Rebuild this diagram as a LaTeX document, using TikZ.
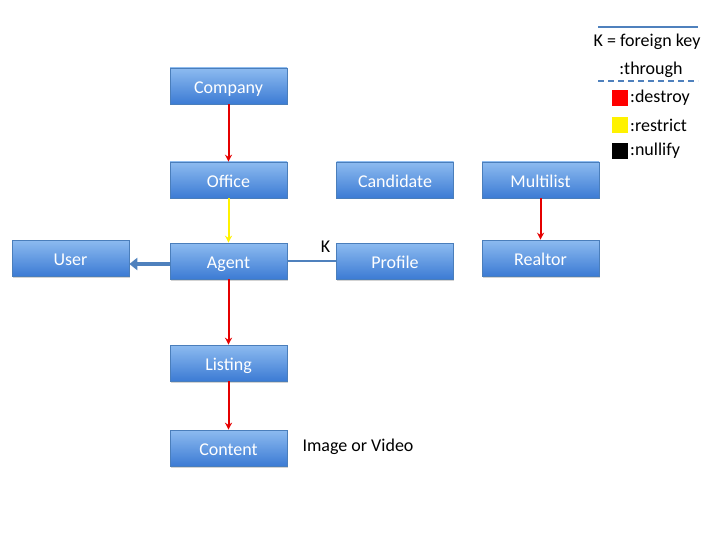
\documentclass[tikz,border=0pt]{standalone}
\usepackage{fontspec}
\setmainfont{Carlito}
\usetikzlibrary{arrows.meta}
\usetikzlibrary{shadows}

\definecolor{boxtop}{HTML}{8DBBF0}
\definecolor{boxbot}{HTML}{3C7BD4}
\definecolor{boxline}{HTML}{4A7EBB}
\definecolor{keyline}{HTML}{4F81BD}

\begin{document}
\begin{tikzpicture}[x=1pt, y=-1pt,
    model/.style={rectangle, draw=boxline, line width=0.6pt, top color=boxtop, bottom color=boxbot,
      minimum width=117pt, minimum height=36pt, text=white, font=\fontsize{18}{21}\selectfont,
      text height=15pt, text depth=0pt,
      drop shadow={shadow xshift=0.8pt, shadow yshift=-1.5pt, opacity=0.35}},
    destroy/.style={red!90!black, line width=2pt, -{Stealth[length=7pt, width=7pt]}},
    restrict/.style={yellow, line width=2pt, -{Stealth[length=7pt, width=7pt]}},
    label/.style={font=\fontsize{18}{21}\selectfont},
    legend/.style={font=\fontsize{18}{21}\selectfont, anchor=west, inner sep=0pt}]

  \useasboundingbox (0,0) rectangle (720,540);

  \node[model] (company)   at (228.5, 86)  {Company};
  \node[model] (office)    at (228.5, 180) {Office};
  \node[model] (candidate) at (395, 180)   {Candidate};
  \node[model] (multilist) at (540.5, 180) {Multilist};
  \node[model] (user)      at (70.5, 258)  {User};
  \node[model] (agent)     at (228.5, 261) {Agent};
  \node[model] (profile)   at (395, 261)   {Profile};
  \node[model] (realtor)   at (540.5, 258) {Realtor};
  \node[model] (listing)   at (228.5, 363) {Listing};
  \node[model] (content)   at (228.5, 448) {Content};

  \node[label] (media) at (358, 447) {Image or Video};

  % dependent destroy
  \draw[destroy] (company) to (office);
  \draw[destroy] (agent) to (listing);
  \draw[destroy] (listing) to (content);
  \draw[destroy] (multilist) to (realtor);

  % restrict
  \draw[restrict] (office) to (agent);

  % agent belongs to user
  \draw[keyline, line width=4pt, -{Triangle[length=8pt, width=12pt]}]
    ([yshift=-3pt]agent.west) to ([yshift=-3pt]user.east |- agent.west);

  % foreign key
  \draw[keyline, line width=1.5pt] (agent) to
    node[pos=0.78, above=4pt, text=black, label] {K}
    (profile);

  % legend
  \draw[keyline, line width=2pt] (598,27) coordinate (k1) to (698,27) coordinate (k2);
  \node[label] (keytext) at (647,42) {K = foreign key};
  \node[label] (thrutext) at (651,70) {:through};
  \draw[keyline, line width=2pt, dash pattern=on 6pt off 4pt] (598,81) coordinate (t1) to (698,81) coordinate (t2);

  \fill[red] (612,90) rectangle (628,106);
  \node[legend] (destroytext) at (630,98) {:destroy};
  \fill[yellow] (612,117) rectangle (628,133);
  \node[legend] (restricttext) at (630,125) {:restrict};
  \fill[black] (612,143) rectangle (628,159);
  \node[legend] (nullifytext) at (630,151) {:nullify};

\end{tikzpicture}
\end{document}
